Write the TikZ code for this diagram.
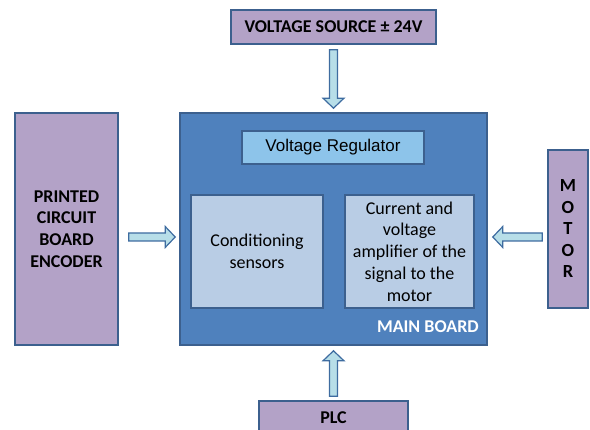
\documentclass[tikz,border=0pt]{standalone}
\usepackage{fontspec}
\setmainfont{Carlito}
\newfontfamily\arialfont{Liberation Sans}
\usetikzlibrary{calc}
\definecolor{edgeblue}{RGB}{60,96,142}
\definecolor{lilac}{RGB}{179,162,199}
\definecolor{boardblue}{RGB}{79,129,189}
\definecolor{regblue}{RGB}{141,196,234}
\definecolor{subblue}{RGB}{185,205,229}
\definecolor{arrowfill}{RGB}{183,222,232}
\definecolor{arrowline}{RGB}{62,108,160}
\newcommand\fatarrow[4]{%
  \filldraw[fat] let \p1=($(#1)!#3!(#2)$), \p2=($(#2)!#4!(#1)$),
    \p3=($(\p2)!10pt!(\p1)$) in
    ($(\p1)!4pt!90:(\p2)$) -- ($(\p3)!4pt!90:(\p2)$) -- ($(\p3)!10.5pt!90:(\p2)$)
    -- (\p2) -- ($(\p3)!10.5pt!-90:(\p2)$) -- ($(\p3)!4pt!-90:(\p2)$)
    -- ($(\p1)!4pt!-90:(\p2)$) -- cycle;}
\begin{document}
\begin{tikzpicture}[x=1pt,y=-1pt,
   every node/.style={inner sep=0pt,align=center,font=\fontsize{18}{21.7}\selectfont},
   outer/.style={draw=edgeblue,fill=lilac,line width=1.6pt,font=\fontsize{18}{21.7}\selectfont\bfseries},
   board/.style={draw=edgeblue,fill=boardblue,line width=1.6pt},
   inner/.style={draw=edgeblue,fill=subblue,line width=1.6pt},
   fat/.style={draw=arrowline,fill=arrowfill,line width=1.2pt,line join=miter}]
  \useasboundingbox (0,0) rectangle (590,430);
  \clip (0,0) rectangle (590,430);
  \node[outer,minimum width=205,minimum height=34] (vs) at (333.5,27) {VOLTAGE SOURCE ± 24V};
  \node[board,minimum width=307,minimum height=232] (mb) at (333.5,229) {};
  \node[draw=edgeblue,fill=regblue,line width=1.6pt,minimum width=182,minimum height=33,
    font=\arialfont\fontsize{17}{20}\selectfont] (vr) at (333,147.5) {Voltage Regulator};
  \node[inner,minimum width=132,minimum height=113] (cs) at (257,251.5) {Conditioning\\sensors};
  \node[inner,minimum width=129,minimum height=113] (amp) at (409.5,251.5)
    {Current and\\voltage\\amplifier of the\\signal to the\\motor};
  \node[anchor=base east,text=white,font=\fontsize{18}{21.7}\selectfont\bfseries] (mbl) at (479,333) {MAIN BOARD};
  \node[outer,minimum width=103,minimum height=232] (pcb) at (66.5,229) {PRINTED\\CIRCUIT\\BOARD\\ENCODER};
  \node[outer,minimum width=40,minimum height=158,font=\fontsize{18.5}{21.5}\selectfont\bfseries] (mot) at (568,229) {M\\O\\T\\O\\R};
  \node[outer,minimum width=149,minimum height=34] (plc) at (333.5,418) {PLC};
  \fatarrow{vs.south}{mb.north}{5pt}{4pt}
  \fatarrow{[yshift=-8pt]pcb.east}{[yshift=-8pt]mb.west}{10pt}{4pt}
  \fatarrow{[yshift=-8pt]mot.west}{[yshift=-8pt]mb.east}{5pt}{5pt}
  \fatarrow{plc.north}{mb.south}{4pt}{5pt}
\end{tikzpicture}
\end{document}
